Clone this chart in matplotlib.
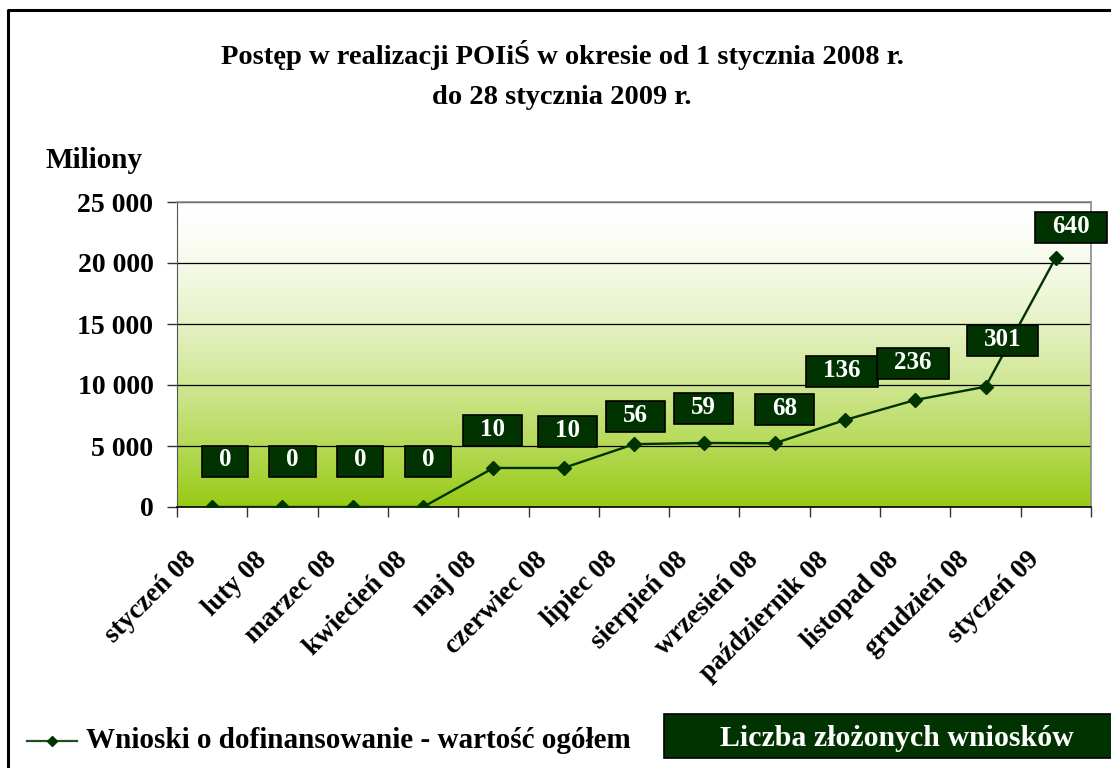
import numpy as np
import matplotlib
matplotlib.use("Agg")
import matplotlib.pyplot as plt
from matplotlib.path import Path
from matplotlib.lines import Line2D
from matplotlib.patches import Rectangle
from matplotlib.ticker import FuncFormatter, FixedLocator

# ---------------- data ----------------
categories = ['styczeń 08', 'luty 08', 'marzec 08', 'kwiecień 08', 'maj 08',
              'czerwiec 08', 'lipiec 08', 'sierpień 08', 'wrzesień 08',
              'październik 08', 'listopad 08', 'grudzień 08', 'styczeń 09']
values = [0, 0, 0, 0, 3200, 3200, 5150, 5250, 5220, 7130, 8770, 9860, 20450]
counts = [0, 0, 0, 0, 10, 10, 56, 59, 68, 136, 236, 301, 640]
yticks = [0, 5000, 10000, 15000, 20000, 25000]

title = "Postęp w realizacji POIiŚ w okresie od 1 stycznia 2008 r.\ndo 28 stycznia 2009 r."
ylabel = "Miliony"
series_name = "Wnioski o dofinansowanie - wartość ogółem"
count_name = "Liczba złożonych wniosków"

# label offsets (pixels) of the count boxes relative to the points
label_dx = [13, 10, 7, 5, -1, 4, 1, -1, 10, -3, -2, 17, 15]
label_dy = [47, 47, 47, 47, 38, 37, 29, 35, 35, 50, 38, 47, 31]

# ---------------- style ----------------
plt.rcParams['font.family'] = ['Liberation Serif', 'DejaVu Serif']
plt.rcParams['font.weight'] = 'bold'

DARK = '#003300'
W, H = 1111, 768
fig = plt.figure(figsize=(W / 100, H / 100), dpi=100)


def fx(px):
    return px / W


def fy(py):
    return 1 - py / H


ax = fig.add_axes([fx(177), fy(507), fx(1091) - fx(177), fy(202) - fy(507)])
n = len(categories)
x = np.arange(n)
ax.set_xlim(-0.5, n - 0.5)
ax.set_ylim(yticks[0], yticks[-1])

# gradient background
t = np.linspace(0, 1, 256)
f = (1 - t) ** 1.5
bottom = np.array([152, 202, 20]) / 255.0
white = np.array([1.0, 1.0, 1.0])
rgb = white[None, :] + (bottom - white)[None, :] * f[:, None]
ax.imshow(rgb[:, None, :], origin='lower', aspect='auto',
          extent=(-0.5, n - 0.5, yticks[0], yticks[-1]), zorder=0,
          interpolation='bilinear')

# grid
ax.set_yticks(yticks)
ax.yaxis.grid(True, color='black', lw=0.9)
ax.set_axisbelow(True)
ax.yaxis.set_major_formatter(FuncFormatter(lambda v, p: f"{int(v):,}".replace(",", " ")))
ax.tick_params(axis='y', labelsize=20, length=7, width=1, color='#333333', pad=10)

# x ticks: boundaries as minor ticks, labels manually
ax.xaxis.set_major_locator(FixedLocator(x))
ax.xaxis.set_minor_locator(FixedLocator(np.arange(n + 1) - 0.5))
ax.tick_params(axis='x', which='major', length=0, labelbottom=False)
ax.tick_params(axis='x', which='minor', length=7, width=1, color='#333333')

for s in ['top', 'right']:
    ax.spines[s].set_color('#8c8c8c')
    ax.spines[s].set_linewidth(1.2)
ax.spines['left'].set_color('#555555')
ax.spines['bottom'].set_color('black')
ax.spines['bottom'].set_linewidth(1.2)

for i, c in enumerate(categories):
    ax.annotate(c, xy=(i, 0), xycoords=('data', 'axes fraction'),
                xytext=(-20, -49), textcoords='offset pixels',
                rotation=45, ha='right', va='center', rotation_mode='anchor',
                fontsize=19.5, fontweight='bold', color='black')

# line
ax.plot(x, values, color=DARK, lw=1.7, marker='D', ms=7.5, mfc=DARK, mec=DARK, zorder=4)


# count boxes
def make_box(hpad=17, hbox=31):
    def box(x0, y0, width, height, mutation_size):
        cx = x0 + width / 2
        cy = y0 + height / 2 - 1
        w = width / 2 + hpad
        h = hbox / 2
        verts = [(cx - w, cy - h), (cx + w, cy - h), (cx + w, cy + h),
                 (cx - w, cy + h), (cx - w, cy - h)]
        return Path(verts, closed=True)
    return box


for i, (v, c) in enumerate(zip(values, counts)):
    ax.annotate(str(c), xy=(i, v), xytext=(label_dx[i], label_dy[i]),
                textcoords='offset pixels', ha='center', va='center',
                fontsize=18, fontweight='bold', color='white', zorder=6,
                bbox=dict(boxstyle=make_box(), fc=DARK, ec='black', lw=1.2))

# title & y label
fig.text(fx(562), fy(75), title, ha='center', va='center', fontsize=20.5,
         fontweight='bold', linespacing=1.75)
fig.text(fx(45), fy(160), ylabel, ha='left', va='center', fontsize=21, fontweight='bold')

# legend
fig.add_artist(Line2D([fx(27), fx(77)], [fy(741), fy(741)], transform=fig.transFigure,
                      color='#1e4d1e', lw=1.6))
fig.add_artist(Line2D([fx(52)], [fy(741)], transform=fig.transFigure,
                      color=DARK, marker='D', ms=5.5, mfc=DARK, mec=DARK))
fig.text(fx(86), fy(741), series_name, ha='left', va='center', fontsize=21, fontweight='bold')

fig.add_artist(Rectangle((fx(664), fy(758)), fx(1115) - fx(664), fy(714) - fy(758),
                         transform=fig.transFigure, fc=DARK, ec='black', lw=1.2))
fig.text(fx(897), fy(738), count_name, ha='center', va='center', fontsize=21.5,
         fontweight='bold', color='white')

# outer frame
fig.add_artist(Line2D([fx(8), fx(8), fx(1115)], [fy(770), fy(10), fy(10)],
                      transform=fig.transFigure, color='black', lw=2.2))

fig.savefig("out.png", dpi=100)
